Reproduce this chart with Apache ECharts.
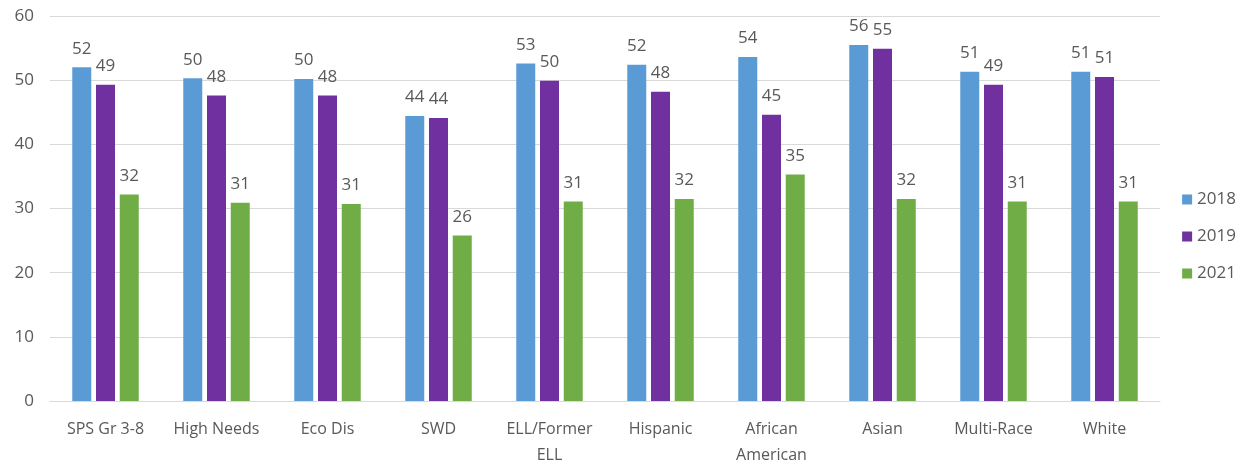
<!DOCTYPE html>
<html><head><meta charset="utf-8">
<script src="https://cdn.jsdelivr.net/npm/echarts@6/dist/echarts.min.js"></script>
<style>html,body{margin:0;padding:0;background:#fff}#c{width:1246px;height:468px}</style>
</head><body><div id="c"></div>
<script>
const categories = ["SPS Gr 3-8", "High Needs", "Eco Dis", "SWD", "ELL/Former\nELL", "Hispanic", "African\nAmerican", "Asian", "Multi-Race", "White"];
const v2018 = [52.0, 50.3, 50.2, 44.4, 52.6, 52.4, 53.6, 55.5, 51.3, 51.3];
const v2019 = [49.3, 47.6, 47.6, 44.1, 49.9, 48.2, 44.6, 54.9, 49.3, 50.5];
const v2021 = [32.2, 30.9, 30.7, 25.8, 31.1, 31.5, 35.3, 31.5, 31.1, 31.1];
const yTicks = {min: 0, max: 60, interval: 10};

const font = "'Open Sans', sans-serif";
const txt = '#595959';
const mk = (name, data, color) => ({
  name, type: 'bar', data, barWidth: 19, barGap: '25%',
  itemStyle: {color},
  label: {show: true, position: 'top', distance: 10, color: txt, fontSize: 17, fontFamily: font,
    formatter: p => Math.round(p.value)}
});
const chart = echarts.init(document.getElementById('c'));
chart.setOption({
  animation: false,
  textStyle: {fontFamily: font},
  grid: {left: 50, right: 86, top: 16, bottom: 61},
  legend: {orient: 'vertical', right: 5, top: 183, itemGap: 14, itemWidth: 10, itemHeight: 10,
    icon: 'rect', textStyle: {color: txt, fontSize: 17, fontFamily: font, lineHeight: 23}},
  xAxis: {type: 'category', data: categories,
    axisLine: {lineStyle: {color: '#d9d9d9'}}, axisTick: {show: false},
    axisLabel: {color: txt, fontSize: 16, fontFamily: font, margin: 15, lineHeight: 26, interval: 0}},
  yAxis: {type: 'value', min: yTicks.min, max: yTicks.max, interval: yTicks.interval,
    axisLine: {show: false}, axisTick: {show: false},
    splitLine: {lineStyle: {color: '#d9d9d9'}},
    axisLabel: {color: txt, fontSize: 17, fontFamily: font, margin: 16}},
  series: [mk('2018', v2018, '#5B9BD5'), mk('2019', v2019, '#7030A0'), mk('2021', v2021, '#70AD47')]
});
</script></body></html>
